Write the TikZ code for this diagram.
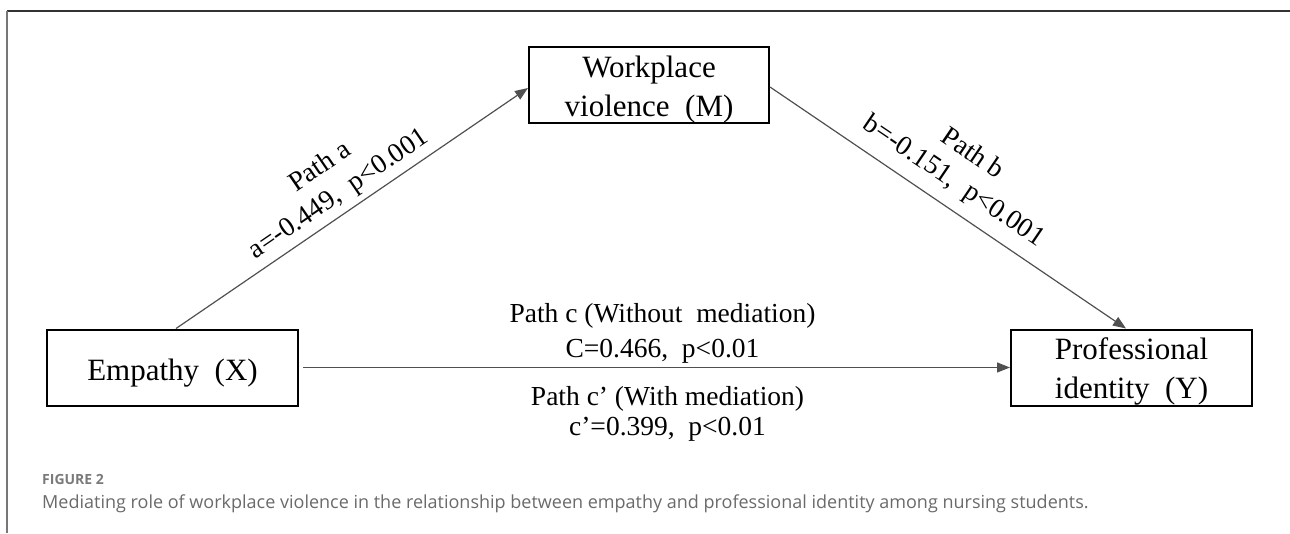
\documentclass[tikz,border=0pt]{standalone}
\usepackage{fontspec}
\setmainfont{Liberation Serif}
\newfontfamily\capfont{Open Sans}
\usetikzlibrary{arrows.meta}
\definecolor{framecol}{HTML}{333333}
\definecolor{leftcol}{HTML}{777777}
\definecolor{linecol}{HTML}{505050}
\definecolor{capcol}{HTML}{6A6A6A}
\definecolor{figcol}{HTML}{7A7A7A}
\newcommand\firstline[2]{\rule{0pt}{#1}\smash{#2}}
\tikzset{
  varbox/.style={draw=black, line width=2pt, minimum height=76pt, inner sep=0pt,
    align=center, font=\fontsize{31}{39}\selectfont},
  pathline/.style={draw=linecol, line width=1.2pt, -{Triangle[length=13pt,width=10pt]}},
  pathlabel/.style={align=center, font=\fontsize{27.5}{33}\selectfont, text=black},
}
\begin{document}
\begin{tikzpicture}[x=1pt,y=-1pt]
\useasboundingbox (0,0) rectangle (1290,533);
% frame
\draw[framecol, line width=2pt] (7,11) -- (1290,11);
\draw[leftcol, line width=1.5pt] (7,11) -- (7,533);
% boxes
\node[varbox, minimum width=251pt] (X) at (172.5,367.5) {\firstline{25pt}{Empathy\ \ (X)}};
\node[varbox, minimum width=240pt] (M) at (649,85) {\firstline{24pt}{Workplace}\\\smash{violence\ \ (M)}};
\node[varbox, minimum width=241pt] (Y) at (1131.5,367.5) {\firstline{23pt}{Professional}\\\smash{identity\ \ (Y)}};
% paths
\draw[pathline] ([xshift=3.5pt]X.north) -- ([yshift=-3pt]M.west)
  node[pos=0.5, sloped, above, pathlabel, xshift=-3pt, yshift=2pt] {Path a\\a=-0.449,\ \ p<0.001};
\draw[pathline] ([yshift=-2pt]M.east) -- ([xshift=-5.5pt]Y.north)
  node[pos=0.5, sloped, above, pathlabel, xshift=-10pt, yshift=8pt] {Path b\\b=-0.151,\ \ p<0.001};
\draw[pathline] ([xshift=4pt]X.east) -- (Y.west)
  node[pos=0.5, above, pathlabel, xshift=6pt, yshift=0pt, font=\fontsize{27.5}{35}\selectfont] {Path c (Without\ \ mediation)\\C=0.466,\ \ p<0.01}
  node[pos=0.5, below, pathlabel, xshift=11pt, yshift=-15pt, font=\fontsize{27.5}{30}\selectfont] {Path c’ (With mediation)\\c’=0.399,\ \ p<0.01};
% caption
\node[anchor=base west, inner sep=0pt, text=figcol, font=\capfont\bfseries\fontsize{14}{16}\selectfont] (fig) at (42,484) {FIGURE 2};
\node[anchor=base west, inner sep=0pt, text=capcol, font=\capfont\fontsize{18}{20}\selectfont] (cap) at (42,508) {Mediating role of workplace violence in the relationship between empathy and professional identity among nursing students.};
\end{tikzpicture}
\end{document}
